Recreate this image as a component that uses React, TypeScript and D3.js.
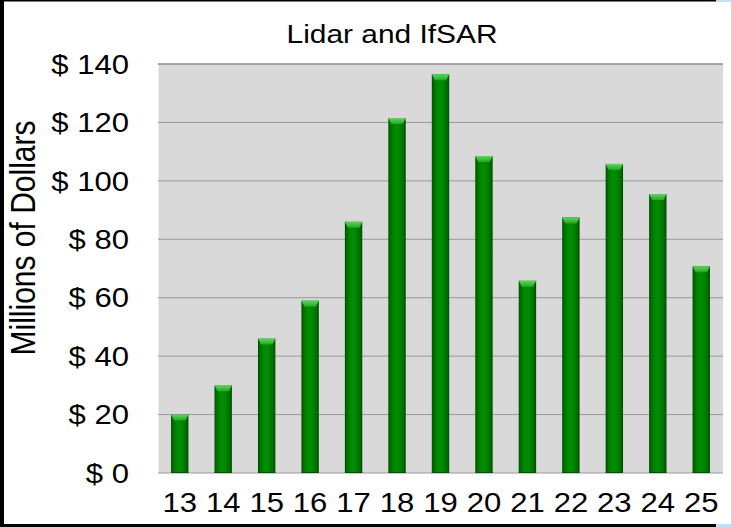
import React from "react";
import * as d3 from "d3";

const categories = ["13", "14", "15", "16", "17", "18", "19", "20", "21", "22", "23", "24", "25"];
const values = [20, 30, 46, 59, 86, 121.5, 136.5, 108.5, 65.8, 87.5, 105.8, 95.5, 70.8];
const yTicks = [0, 20, 40, 60, 80, 100, 120, 140];

const W = 731, H = 527;
const m = { left: 158, right: 723, top: 64, bottom: 473 };
const SX = 1.15;

export default function App() {
  const x = d3.scaleBand().domain(categories).range([m.left, m.right]).paddingInner(0).paddingOuter(0);
  const y = d3.scaleLinear().domain([0, 140]).range([m.bottom, m.top]);
  const bw = x.bandwidth() * 0.4;
  const font = "'Liberation Sans', Arial, sans-serif";
  return (
    <svg width={W} height={H} style={{ position: "absolute", left: 0, top: 0 }} fontFamily={font}>
      <defs>
        <linearGradient id="barg" x1="0" x2="1" y1="0" y2="0">
          <stop offset="0" stopColor="#004d00" />
          <stop offset="0.12" stopColor="#006e00" />
          <stop offset="0.35" stopColor="#008c00" />
          <stop offset="0.6" stopColor="#008a00" />
          <stop offset="0.88" stopColor="#006c00" />
          <stop offset="1" stopColor="#004a00" />
        </linearGradient>
        <linearGradient id="capg" x1="0" x2="0" y1="0" y2="1">
          <stop offset="0" stopColor="#5fd65f" />
          <stop offset="1" stopColor="#22a822" />
        </linearGradient>
      </defs>
      <rect x={0} y={0} width={W} height={H} fill="#fff" />
      <rect x={0} y={0} width={4} height={H} fill="#000" />
      <rect x={0} y={0} width={W - 15} height={1.5} fill="#000" />
      <rect x={0} y={H - 3} width={W - 15} height={3} fill="#000" />
      <rect x={W - 15} y={0} width={15} height={2} fill="#bfe3f5" />
      <rect x={W - 15} y={H - 3} width={15} height={3} fill="#bfe3f5" />
      <rect x={m.left} y={m.top} width={m.right - m.left} height={m.bottom - m.top} fill="#d9d9d9" />
      <line x1={m.left + 0.5} x2={m.left + 0.5} y1={m.top} y2={m.bottom} stroke="#ececec" />
      {yTicks.map((t) => (
        <line key={t} x1={m.left} x2={m.right} y1={y(t)} y2={y(t)}
          stroke={t === 140 ? "#8a8a8a" : "#9a9a9a"} strokeWidth={t === 140 ? 1.5 : 1} />
      ))}
      {categories.map((c, i) => {
        const cx = (x(c) as number) + x.bandwidth() / 2;
        const x0 = cx - bw / 2;
        const yt = y(values[i]);
        const capH = 6;
        return (
          <g key={c}>
            <rect x={x0} y={yt} width={bw} height={m.bottom - yt} fill="url(#barg)" />
            <polygon
              points={`${x0},${yt} ${x0 + bw},${yt} ${x0 + bw - 3},${yt + capH} ${x0 + 3},${yt + capH}`}
              fill="url(#capg)"
            />
            <line x1={x0} x2={x0 + bw} y1={m.bottom - 0.5} y2={m.bottom - 0.5} stroke="#005000" />
          </g>
        );
      })}
      {yTicks.map((t) => (
        <text key={t} transform={`translate(129,${y(t)}) scale(${SX},1)`} dy="0.36em" textAnchor="end" fontSize={27} fill="#000">
          {`$ ${t}`}
        </text>
      ))}
      {categories.map((c) => (
        <text key={c} transform={`translate(${(x(c) as number) + x.bandwidth() / 2},512) scale(${SX},1)`} textAnchor="middle" fontSize={27} fill="#000">
          {c}
        </text>
      ))}
      <text transform={`translate(392,43) scale(${SX},1)`} textAnchor="middle" fontSize={26} fill="#000">Lidar and IfSAR</text>
      <text transform={`translate(35,238) scale(${SX},1) rotate(-90)`} textAnchor="middle" fontSize={30} fill="#000">
        Millions of Dollars
      </text>
    </svg>
  );
}
